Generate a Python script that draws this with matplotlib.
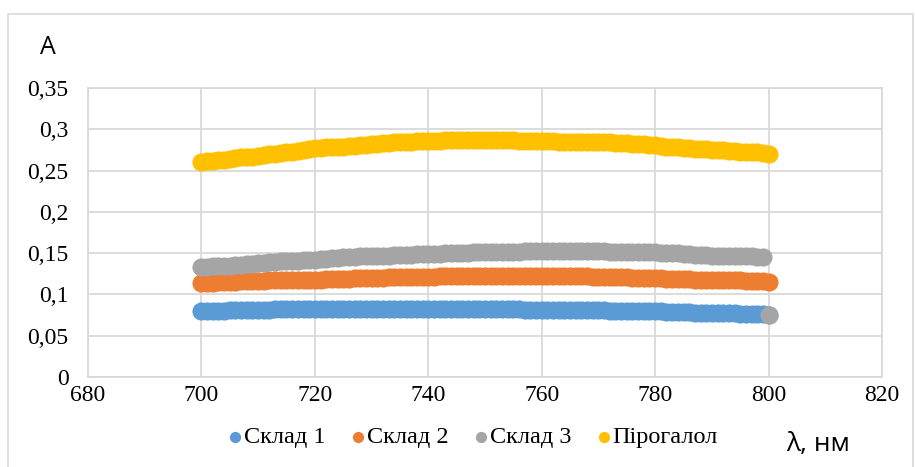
import numpy as np
import matplotlib
matplotlib.use("Agg")
import matplotlib.pyplot as plt
from matplotlib.patches import Rectangle

# wavelength, nm (1 nm step)
wl = list(range(700, 801))

sklad1 = [
    0.080, 0.080, 0.080, 0.080, 0.080, 0.081, 0.081, 0.081, 0.081, 0.081,
    0.081, 0.081, 0.081, 0.082, 0.082, 0.082, 0.082, 0.082, 0.082, 0.082,
    0.082, 0.082, 0.082, 0.082, 0.082, 0.082, 0.082, 0.082, 0.082, 0.082,
    0.082, 0.082, 0.082, 0.082, 0.082, 0.082, 0.082, 0.082, 0.082, 0.082,
    0.082, 0.082, 0.082, 0.082, 0.082, 0.082, 0.082, 0.082, 0.082, 0.082,
    0.082, 0.082, 0.082, 0.082, 0.082, 0.082, 0.082, 0.081, 0.081, 0.081,
    0.081, 0.081, 0.081, 0.081, 0.081, 0.081, 0.081, 0.081, 0.081, 0.081,
    0.081, 0.081, 0.080, 0.080, 0.080, 0.080, 0.080, 0.080, 0.080, 0.080,
    0.080, 0.080, 0.079, 0.079, 0.079, 0.079, 0.079, 0.078, 0.078, 0.078,
    0.078, 0.077, 0.077, 0.077, 0.077, 0.076, 0.076, 0.076, 0.076, 0.076,
    0.075,
]

sklad2 = [
    0.114, 0.114, 0.114, 0.115, 0.115, 0.115, 0.115, 0.116, 0.116, 0.116,
    0.116, 0.116, 0.117, 0.117, 0.117, 0.117, 0.117, 0.118, 0.118, 0.118,
    0.118, 0.118, 0.119, 0.119, 0.119, 0.119, 0.119, 0.120, 0.120, 0.120,
    0.120, 0.120, 0.120, 0.121, 0.121, 0.121, 0.121, 0.121, 0.121, 0.121,
    0.121, 0.121, 0.122, 0.122, 0.122, 0.122, 0.122, 0.122, 0.122, 0.122,
    0.122, 0.122, 0.122, 0.122, 0.122, 0.122, 0.122, 0.122, 0.122, 0.122,
    0.122, 0.122, 0.122, 0.122, 0.122, 0.122, 0.122, 0.122, 0.122, 0.121,
    0.121, 0.121, 0.121, 0.121, 0.121, 0.121, 0.120, 0.120, 0.120, 0.120,
    0.120, 0.120, 0.119, 0.119, 0.119, 0.119, 0.119, 0.118, 0.118, 0.118,
    0.118, 0.118, 0.117, 0.117, 0.117, 0.117, 0.116, 0.116, 0.116, 0.116,
    0.115,
]

sklad3 = [
    0.133, 0.133, 0.134, 0.134, 0.135, 0.135, 0.136, 0.136, 0.137, 0.137,
    0.138, 0.138, 0.139, 0.139, 0.140, 0.140, 0.141, 0.141, 0.142, 0.142,
    0.142, 0.143, 0.143, 0.144, 0.144, 0.145, 0.145, 0.145, 0.146, 0.146,
    0.146, 0.147, 0.147, 0.147, 0.148, 0.148, 0.148, 0.148, 0.149, 0.149,
    0.149, 0.149, 0.149, 0.150, 0.150, 0.150, 0.150, 0.150, 0.151, 0.151,
    0.151, 0.151, 0.151, 0.151, 0.151, 0.151, 0.151, 0.152, 0.152, 0.152,
    0.152, 0.152, 0.152, 0.152, 0.152, 0.152, 0.152, 0.152, 0.152, 0.152,
    0.152, 0.152, 0.151, 0.151, 0.151, 0.151, 0.151, 0.151, 0.151, 0.151,
    0.151, 0.150, 0.150, 0.150, 0.150, 0.149, 0.149, 0.148, 0.148, 0.148,
    0.147, 0.147, 0.147, 0.147, 0.146, 0.146, 0.146, 0.146, 0.145, 0.145,
    0.075,
]

pyrogallol = [
    0.260, 0.261, 0.262, 0.263, 0.263, 0.264, 0.265, 0.266, 0.266, 0.267,
    0.268, 0.269, 0.270, 0.270, 0.271, 0.272, 0.273, 0.274, 0.275, 0.276,
    0.277, 0.277, 0.278, 0.278, 0.279, 0.279, 0.280, 0.280, 0.281, 0.281,
    0.282, 0.282, 0.283, 0.283, 0.284, 0.285, 0.285, 0.285, 0.286, 0.286,
    0.286, 0.286, 0.286, 0.287, 0.287, 0.287, 0.287, 0.287, 0.287, 0.287,
    0.287, 0.287, 0.287, 0.287, 0.287, 0.287, 0.286, 0.286, 0.286, 0.286,
    0.286, 0.286, 0.286, 0.285, 0.285, 0.285, 0.285, 0.285, 0.284, 0.284,
    0.284, 0.284, 0.284, 0.283, 0.283, 0.283, 0.282, 0.282, 0.282, 0.281,
    0.281, 0.280, 0.279, 0.278, 0.278, 0.277, 0.277, 0.276, 0.276, 0.276,
    0.275, 0.275, 0.275, 0.274, 0.274, 0.273, 0.273, 0.272, 0.272, 0.271,
    0.270,
]

names = ["Склад 1", "Склад 2", "Склад 3", "Пірогалол"]
colors = ["#5B9BD5", "#ED7D31", "#A5A5A5", "#FFC000"]
series = [sklad1, sklad2, sklad3, pyrogallol]

xticks = [680, 700, 720, 740, 760, 780, 800, 820]
yticks = [0, 0.05, 0.1, 0.15, 0.2, 0.25, 0.3, 0.35]
ytick_labels = ["0", "0,05", "0,1", "0,15", "0,2", "0,25", "0,3", "0,35"]

W, H = 915, 467
fig = plt.figure(figsize=(W / 100, H / 100), dpi=100)
ax = fig.add_axes([88 / W, 1 - 377 / H, (882 - 88) / W, (377 - 88) / H])

grid_c = "#d9d9d9"
for name, col, vals in zip(names, colors, series):
    ax.scatter(wl, vals, s=170, color=col, label=name, linewidths=0, zorder=3)

ax.set_xlim(680, 820)
ax.set_ylim(0, 0.35)
ax.set_xticks(xticks)
ax.set_yticks(yticks)
ax.set_yticklabels(ytick_labels)
ax.grid(True, color=grid_c, linewidth=1.3, zorder=0)
ax.set_axisbelow(True)
for sp in ax.spines.values():
    sp.set_color(grid_c)
    sp.set_linewidth(1.3)
ax.tick_params(axis="y", length=0, pad=14, labelsize=17)
ax.tick_params(axis="x", length=0, pad=6, labelsize=17)
for lab in ax.get_xticklabels() + ax.get_yticklabels():
    lab.set_fontfamily("Liberation Serif")

fig.text(48 / W, 1 - 47 / H, "A", fontsize=18, family="Open Sans",
         ha="center", va="center")
fig.text(818 / W, 1 - 445 / H, "λ, нм", fontsize=19, family="Open Sans",
         ha="center", va="center")

leg = fig.legend(loc="center", bbox_to_anchor=(473 / W, 1 - 437 / H), ncol=4,
                 frameon=False, handletextpad=0.05, handlelength=0.6,
                 columnspacing=1.05, markerscale=0.62, borderaxespad=0,
                 prop={"family": "Liberation Serif", "size": 17.5})

fig.patches.append(Rectangle((8 / W, -0.02), (913 - 8) / W, 1.02 - 14 / H,
                             transform=fig.transFigure, fill=False,
                             edgecolor=grid_c, linewidth=1.2))

fig.savefig("out.png", dpi=100)
